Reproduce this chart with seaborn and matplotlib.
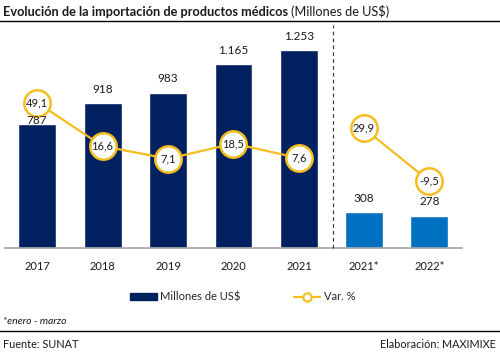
"""
Evolución de la importación de productos médicos
barras (Millones de US$) + línea (Var. %)
"""
import numpy as np
import pandas as pd
import seaborn as sns
import matplotlib
matplotlib.use('Agg')
import matplotlib.pyplot as plt
from matplotlib.patches import Patch
from matplotlib.lines import Line2D

# ==================== datos ====================
anios = ['2017', '2018', '2019', '2020', '2021']
millones = [787, 918, 983, 1165, 1253]
var_pct = [49.1, 16.6, 7.1, 18.5, 7.6]

anios_parcial = ['2021*', '2022*']
millones_parcial = [308, 278]
var_pct_parcial = [29.9, -9.5]

# ==================== estilo ====================
sns.set_style('white')
plt.rcParams['font.family'] = ['Lato', 'DejaVu Sans']

NAVY = '#002060'
BLUE = '#0070C0'
GOLD = '#F5BD1F'
GRIS = '#A6A6A6'
TXT = '#1a1a1a'

W, H = 500, 354
fig = plt.figure(figsize=(W / 100, H / 100), dpi=100)

base_y = (H - 248) / H
alto = 223 / H


def panel(x0, x1, cats, vals, pct, color, ymax, xlim, offsets):
    ax = fig.add_axes([x0 / W, base_y, (x1 - x0) / W, alto])
    df = pd.DataFrame({'cat': cats, 'val': vals})
    sns.barplot(data=df, x='cat', y='val', color=color, width=0.58,
                saturation=1, ax=ax)
    ax.set_xlim(*xlim)
    ax.set_ylim(0, ymax)
    ax.set_xlabel('')
    ax.set_ylabel('')
    ax.set_yticks([])
    ax.tick_params(axis='x', length=0, labelsize=8, labelcolor=TXT, pad=9)
    for s in ['top', 'left', 'right']:
        ax.spines[s].set_visible(False)
    ax.spines['bottom'].set_color(GRIS)
    ax.spines['bottom'].set_linewidth(1.2)

    ax2 = ax.twinx()
    sns.lineplot(x=np.arange(len(pct)), y=pct, ax=ax2, color=GOLD,
                 linewidth=1.6, marker='o', markersize=19,
                 markerfacecolor='white', markeredgecolor=GOLD,
                 markeredgewidth=1.8)
    ax2.set_xlim(*xlim)
    ax2.set_ylim(-59.5, 107)
    for i, v in enumerate(pct):
        ax2.text(i, v, f'{v:.1f}'.replace('.', ','), ha='center',
                 va='center', fontsize=8, color=TXT, zorder=5)
    # etiquetas de las barras encima de la linea
    for p, v, off in zip(ax.patches, vals, offsets):
        ax2.annotate(f'{v:,}'.replace(',', '.'),
                     (p.get_x() + p.get_width() / 2, p.get_height()),
                     xycoords=ax.transData,
                     xytext=(0, off), textcoords='offset points',
                     ha='center', va='bottom', fontsize=8.5, color=TXT,
                     zorder=6)
    ax2.set_yticks([])
    ax2.set_ylabel('')
    for s in ax2.spines.values():
        s.set_visible(False)
    return ax


panel(5, 333, anios, millones, var_pct, NAVY, 1411, (-0.49, 4.52),
      [-1.5, 6, 6, 6, 6])
panel(333, 462, anios_parcial, millones_parcial, var_pct_parcial, BLUE, 1922,
      (-0.47, 1.5), [6, 6])

# linea divisoria punteada
fig.add_artist(Line2D([333 / W, 333 / W], [base_y, 1 - 25 / H],
                      color='#404040', linestyle=(0, (3, 2.5)), linewidth=0.9))

# titulo
t = fig.text(3 / W, 1 - 12 / H, 'Evolución de la importación de productos médicos',
             fontsize=9.2, fontweight='bold', color=TXT, va='center')
fig.canvas.draw()
bb = t.get_window_extent()
fig.text((bb.x1 + 3) / W, 1 - 12 / H, '(Millones de US$)', fontsize=9.2,
         color=TXT, va='center')
fig.add_artist(Line2D([0, 1], [1 - 20.5 / H] * 2, color='black', linewidth=1))

# leyenda
handles = [Patch(facecolor=NAVY, edgecolor=NAVY, label='Millones de US$'),
           Line2D([], [], color=GOLD, linewidth=1.6, marker='o', markersize=6,
                  markerfacecolor='white', markeredgecolor=GOLD,
                  markeredgewidth=1.5, label='Var. %')]
fig.legend(handles=handles, loc='center', bbox_to_anchor=(0.485, 1 - 297 / H),
           ncol=2, frameon=False, fontsize=8, handlelength=2.4,
           handleheight=0.6, handletextpad=0.3, columnspacing=4.8)

# notas
fig.text(3 / W, 1 - 322 / H, '*enero - marzo', fontsize=7.5, style='italic',
         color=TXT, va='center')
fig.add_artist(Line2D([0, 1], [1 - 331 / H] * 2, color='black', linewidth=1))
fig.text(3 / W, 1 - 345 / H, 'Fuente: SUNAT', fontsize=7.8, color=TXT,
         va='center')
fig.text(496 / W, 1 - 345 / H, 'Elaboración: MAXIMIXE', fontsize=7.8,
         color=TXT, va='center', ha='right')

fig.savefig('out.png', dpi=100)
plt.close('all')
